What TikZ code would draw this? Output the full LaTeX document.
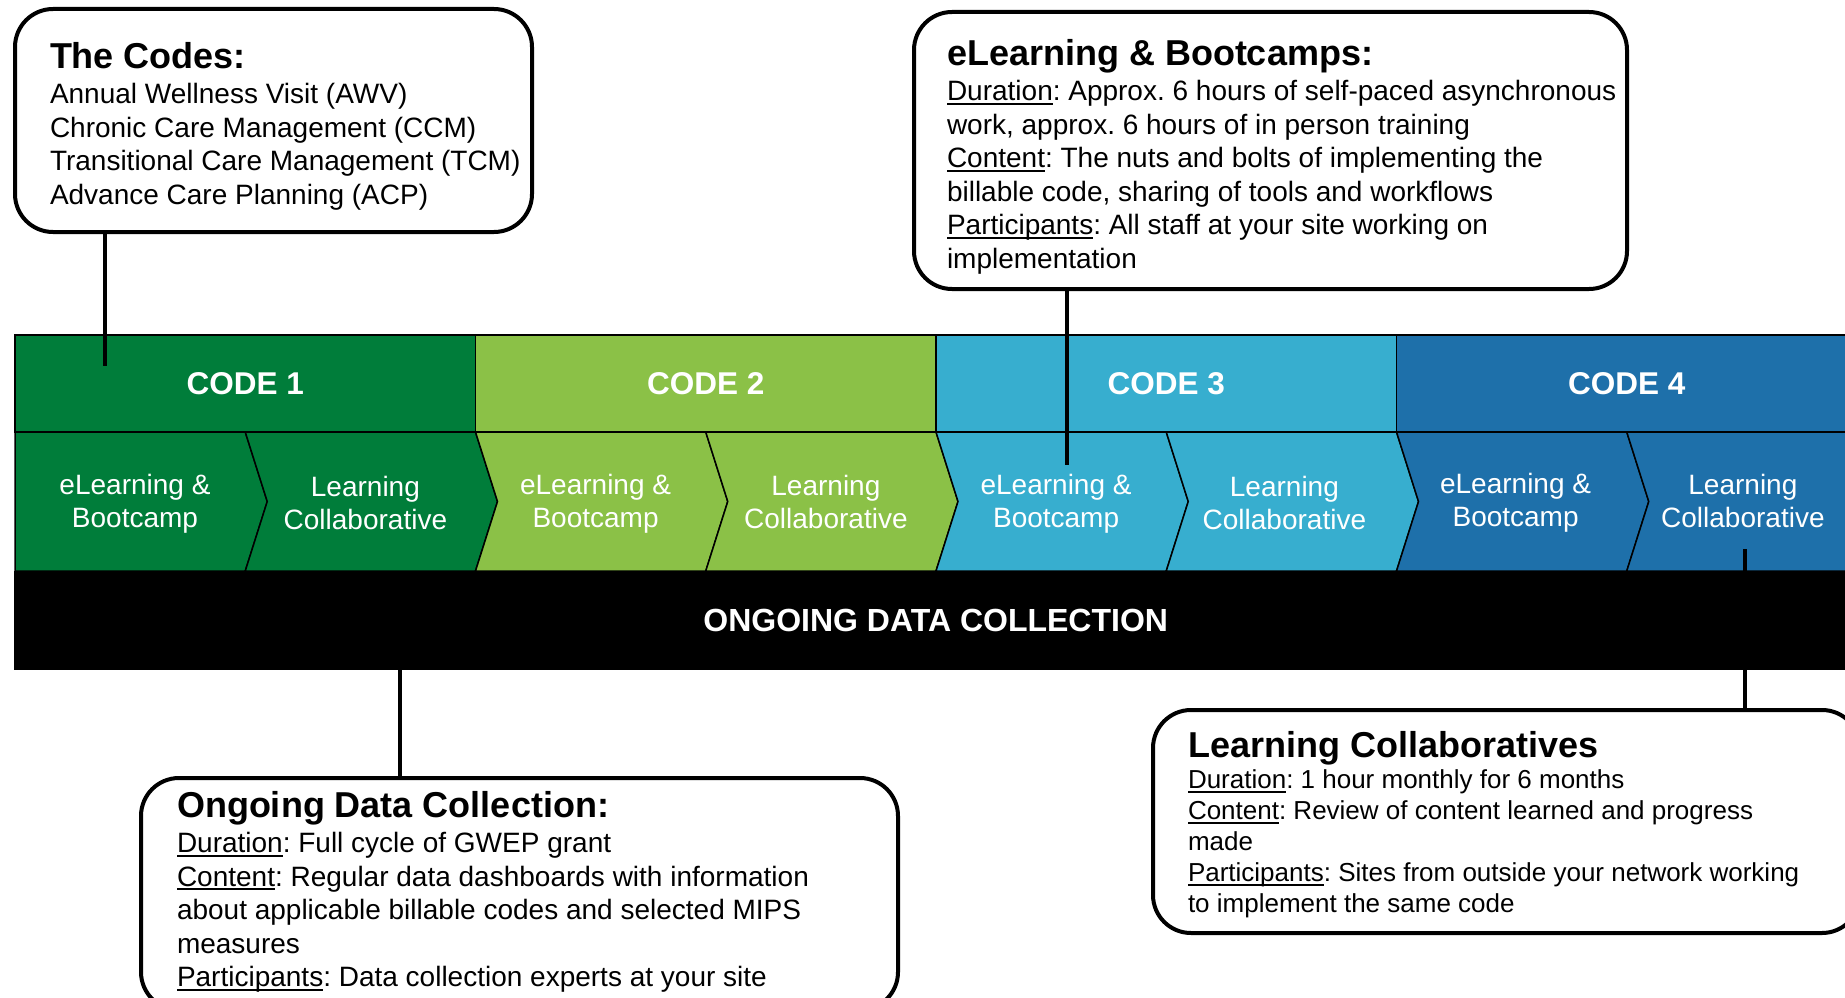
\documentclass[tikz,border=0pt]{standalone}
\usepackage{fontspec}
\setmainfont{Liberation Sans}
\usetikzlibrary{positioning}

\definecolor{codeA}{RGB}{0,125,58}
\definecolor{codeB}{RGB}{139,193,71}
\definecolor{codeC}{RGB}{55,174,207}
\definecolor{codeD}{RGB}{30,112,170}

\newsavebox{\ulbox}
\newcommand{\ulword}[1]{\sbox{\ulbox}{#1}\rlap{\rule[-4pt]{\wd\ulbox}{1.8pt}}#1}
\frenchspacing

\begin{document}
\begin{tikzpicture}[x=1pt, y=-1pt,
  code/.style = {draw, line width=1.2pt, outer sep=0pt, inner sep=0pt, minimum width=460.5pt, minimum height=97pt, text=white, font=\fontsize{31.5}{37}\selectfont\bfseries},
  chev/.style = {draw, line width=1.5pt},
  lbl/.style = {text=white, align=center, font=\fontsize{28}{33}\selectfont},
  callout/.style = {draw, fill=white, line width=4pt, rounded corners=38pt, outer sep=0pt, inner sep=0pt},
  txt/.style = {inner sep=0pt, outer sep=0pt, align=left, font=\fontsize{28}{33.5}\selectfont},
  link/.style = {line width=4.5pt}]
\useasboundingbox (0,0) rectangle (1845,998);
\clip (0,0) rectangle (1845,998);
\fill[white] (0,0) rectangle (1845,998);

% codes row
\node[code, fill=codeA, anchor=north west] (c1) at (15,335) {CODE 1};
\node[code, fill=codeB, right=0pt of c1] (c2) {CODE 2};
\node[code, fill=codeC, right=0pt of c2] (c3) {CODE 3};
\node[code, fill=codeD, right=0pt of c3] (c4) {CODE 4};

% chevrons
\filldraw[chev, fill=codeA] (15,432) -- (245.25,432) -- (267.25,501.5) -- (245.25,571) -- (15,571) -- cycle;
\filldraw[chev, fill=codeA] (245.25,432) -- (475.5,432) -- (497.5,501.5) -- (475.5,571) -- (245.25,571) -- (267.25,501.5) -- cycle;
\filldraw[chev, fill=codeB] (475.5,432) -- (705.75,432) -- (727.75,501.5) -- (705.75,571) -- (475.5,571) -- (497.5,501.5) -- cycle;
\filldraw[chev, fill=codeB] (705.75,432) -- (936,432) -- (958,501.5) -- (936,571) -- (705.75,571) -- (727.75,501.5) -- cycle;
\filldraw[chev, fill=codeC] (936,432) -- (1166.25,432) -- (1188.25,501.5) -- (1166.25,571) -- (936,571) -- (958,501.5) -- cycle;
\filldraw[chev, fill=codeC] (1166.25,432) -- (1396.5,432) -- (1418.5,501.5) -- (1396.5,571) -- (1166.25,571) -- (1188.25,501.5) -- cycle;
\filldraw[chev, fill=codeD] (1396.5,432) -- (1626.75,432) -- (1648.75,501.5) -- (1626.75,571) -- (1396.5,571) -- (1418.5,501.5) -- cycle;
\filldraw[chev, fill=codeD] (1626.75,432) -- (1857,432) -- (1879,501.5) -- (1857,571) -- (1626.75,571) -- (1648.75,501.5) -- cycle;

\node[lbl] (e1) at (135,504) {eLearning \&\\Bootcamp};
\node[lbl] (l1) at (365.4,503) {Learning\\Collaborative};
\node[lbl] (e2) at (595.6,504) {eLearning \&\\Bootcamp};
\node[lbl] (l2) at (825.9,502) {Learning\\Collaborative};
\node[lbl] (e3) at (1056.1,504) {eLearning \&\\Bootcamp};
\node[lbl] (l3) at (1284.4,503) {Learning\\Collaborative};
\node[lbl] (e4) at (1515.6,503) {eLearning \&\\Bootcamp};
\node[lbl] (l4) at (1742.9,501) {Learning\\Collaborative};

% data band
\node[fill=black, text=white, anchor=north west, minimum width=1843pt, minimum height=99pt, inner sep=0pt, font=\fontsize{32}{38}\selectfont\bfseries] (odc) at (14,571) {ONGOING DATA COLLECTION};

% callouts
\node[callout, minimum width=517pt, minimum height=223pt] (codes) at (273.5,120.5) {};
\node[txt, below right=33.5pt and 35pt of codes.north west] (codestxt) {{\fontsize{36}{40}\selectfont\bfseries The Codes:}\\[1.5pt]
Annual Wellness Visit (AWV)\\
Chronic Care Management (CCM)\\
Transitional Care Management (TCM)\\
Advance Care Planning (ACP)};

\node[callout, minimum width=713pt, minimum height=277pt] (elb) at (1270.5,150.5) {};
\node[txt, below right=27.5pt and 33pt of elb.north west] (elbtxt) {{\fontsize{36}{40}\selectfont\bfseries eLearning \& Bootcamps:}\\[1.5pt]
\ulword{Duration}: Approx. 6 hours of self-paced asynchronous\\
work, approx. 6 hours of in person training\\
\ulword{Content}: The nuts and bolts of implementing the\\
billable code, sharing of tools and workflows\\
\ulword{Participants}: All staff at your site working on\\
implementation};

\node[callout, minimum width=757pt, minimum height=232pt] (odcbox) at (519.5,894) {};
\node[txt, below right=13.5pt and 36pt of odcbox.north west] (odctxt) {{\fontsize{36}{40}\selectfont\bfseries Ongoing Data Collection:}\\[1.5pt]
\ulword{Duration}: Full cycle of GWEP grant\\
\ulword{Content}: Regular data dashboards with information\\
about applicable billable codes and selected MIPS\\
measures\\
\ulword{Participants}: Data collection experts at your site};

\node[callout, minimum width=707pt, minimum height=223pt] (lcbox) at (1506.5,821.5) {};
\node[txt, font=\fontsize{26}{31}\selectfont, below right=21.5pt and 35pt of lcbox.north west] (lctxt) {{\fontsize{36}{40}\selectfont\bfseries Learning Collaboratives}\\
\ulword{Duration}: 1 hour monthly for 6 months\\
\ulword{Content}: Review of content learned and progress\\
made\\
\ulword{Participants}: Sites from outside your network working\\
to implement the same code};

% connectors
\coordinate (codept) at (105,366);
\coordinate (elbpt) at (1067,465);
\coordinate (odcpt) at (400,670);
\coordinate (lcpt) at (1745,549);
\draw[link] (codes.south -| codept) -- (codept);
\draw[link] (elb.south -| elbpt) -- (elbpt);
\draw[link] (odcpt) -- (odcbox.north -| odcpt);
\draw[link] (lcpt) -- (lcbox.north -| lcpt);

\end{tikzpicture}
\end{document}
